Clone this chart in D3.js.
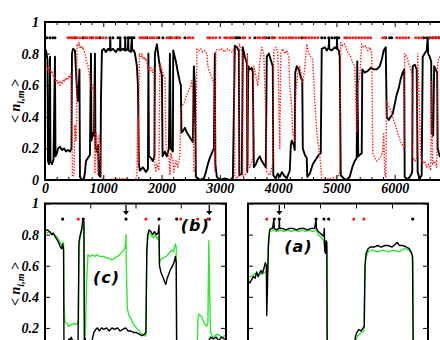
<!DOCTYPE html>
<html>
<head>
<meta charset="utf-8">
<script src="https://cdn.jsdelivr.net/npm/d3@7"></script>
<style>
    html, body { margin: 0; padding: 0; background: #fff; }
    svg { display: block; }
</style>
</head>
<body>
<div id="chart"></div>
<script>
// ---- top panel: trajectory over MC steps ----
var topBlack = [[0,0.83],[17,0.82],[34,0.78],[43,0.76],[51,0.12],[69,0.10],[86,0.78],[94,0.12],[120,0.10],[146,0.13],[171,0.78],[180,0.15],[206,0.17],[223,0.20],[257,0.21],[291,0.19],[326,0.20],[360,0.18],[394,0.19],[429,0.18],[454,0.20],[463,0.80],[480,0.83],[514,0.82],[531,0.70],[549,0.56],[566,0.50],[583,0.62],[591,0.70],[600,0.02],[634,0.00],[669,0.01],[686,0.05],[703,0.12],[737,0.14],[771,0.16],[789,0.80],[797,0.25],[823,0.30],[840,0.28],[857,0.80],[866,0.20],[891,0.18],[908,0.22],[926,0.03],[951,0.02],[960,0.50],[977,0.82],[1011,0.83],[1046,0.81],[1080,0.83],[1114,0.82],[1120,0.90],[1125,0.82],[1166,0.83],[1217,0.81],[1251,0.83],[1286,0.82],[1291,0.90],[1296,0.82],[1337,0.83],[1371,0.82],[1377,0.90],[1382,0.82],[1423,0.83],[1428,0.90],[1433,0.82],[1474,0.81],[1491,0.90],[1496,0.82],[1526,0.82],[1543,0.80],[1560,0.76],[1577,0.72],[1594,0.60],[1611,0.10],[1628,0.06],[1680,0.08],[1731,0.05],[1766,0.07],[1774,0.80],[1783,0.15],[1817,0.14],[1851,0.12],[1877,0.15],[1886,0.80],[1920,0.86],[1954,0.76],[1971,0.72],[2006,0.66],[2017,0.15],[2057,0.18],[2091,0.15],[2126,0.20],[2143,0.80],[2160,0.20],[2194,0.18],[2200,0.82],[2246,0.75],[2280,0.68],[2314,0.62],[2331,0.60],[2340,0.30],[2366,0.31],[2400,0.33],[2434,0.30],[2469,0.28],[2503,0.26],[2537,0.24],[2554,0.72],[2571,0.60],[2589,0.02],[2657,0.00],[2726,0.01],[2760,0.05],[2794,0.10],[2828,0.14],[2863,0.17],[2897,0.20],[2914,0.80],[2923,0.10],[2948,0.02],[3000,0.00],[3085,0.01],[3171,0.00],[3223,0.01],[3257,0.85],[3291,0.84],[3325,0.82],[3334,0.03],[3377,0.04],[3394,0.84],[3428,0.78],[3463,0.74],[3471,0.05],[3488,0.72],[3514,0.70],[3548,0.71],[3565,0.68],[3583,0.08],[3617,0.10],[3651,0.13],[3685,0.15],[3720,0.12],[3754,0.10],[3788,0.08],[3805,0.78],[3840,0.80],[3874,0.76],[3908,0.72],[3917,0.03],[3960,0.01],[3994,0.04],[4028,0.02],[4063,0.05],[4097,0.03],[4148,0.01],[4200,0.06],[4217,0.22],[4234,0.25],[4268,0.22],[4285,0.19],[4294,0.68],[4320,0.72],[4354,0.70],[4388,0.65],[4414,0.63],[4423,0.20],[4440,0.18],[4457,0.16],[4491,0.14],[4500,0.02],[4543,0.04],[4594,0.10],[4645,0.13],[4697,0.16],[4731,0.17],[4748,0.83],[4800,0.84],[4834,0.82],[4868,0.84],[4874,0.90],[4878,0.83],[4920,0.82],[4971,0.84],[5005,0.83],[5010,0.90],[5015,0.83],[5040,0.82],[5057,0.78],[5074,0.03],[5125,0.01],[5177,0.00],[5228,0.02],[5280,0.09],[5314,0.12],[5348,0.14],[5357,0.75],[5374,0.15],[5400,0.16],[5434,0.17],[5443,0.70],[5485,0.68],[5537,0.69],[5588,0.71],[5640,0.70],[5691,0.70],[5743,0.72],[5777,0.76],[5811,0.82],[5846,0.84],[5863,0.40],[5897,0.38],[5931,0.40],[5966,0.42],[6000,0.48],[6034,0.54],[6068,0.58],[6103,0.64],[6137,0.68],[6163,0.70],[6171,0.02],[6223,0.00],[6274,0.03],[6300,0.05],[6308,0.72],[6343,0.73],[6377,0.70],[6394,0.05],[6428,0.01],[6463,0.03],[6480,0.78],[6514,0.80],[6548,0.82],[6566,0.90],[6574,0.80],[6600,0.78],[6626,0.75],[6634,0.30],[6660,0.28],[6677,0.72],[6703,0.70],[6728,0.68],[6737,0.20],[6771,0.15],[6806,0.14]];

var topRed = [[0,0.72],[17,0.74],[34,0.71],[51,0.69],[69,0.72],[86,0.70],[103,0.68],[120,0.69],[137,0.66],[154,0.67],[171,0.64],[189,0.62],[206,0.63],[223,0.61],[240,0.62],[257,0.60],[274,0.62],[291,0.61],[309,0.63],[326,0.62],[343,0.64],[360,0.63],[377,0.65],[394,0.64],[411,0.66],[429,0.65],[446,0.67],[463,0.30],[471,0.02],[497,0.03],[514,0.35],[531,0.25],[540,0.30],[549,0.86],[566,0.85],[583,0.87],[600,0.84],[617,0.85],[634,0.83],[651,0.84],[669,0.82],[686,0.80],[703,0.77],[720,0.74],[737,0.72],[754,0.68],[771,0.64],[789,0.60],[806,0.57],[823,0.60],[840,0.56],[857,0.04],[874,0.30],[891,0.26],[908,0.03],[926,0.28],[943,0.24],[968,0.02],[1029,0.00],[1286,0.01],[1543,0.00],[1577,0.02],[1594,0.40],[1603,0.10],[1620,0.80],[1646,0.78],[1663,0.80],[1680,0.77],[1697,0.78],[1714,0.76],[1731,0.77],[1748,0.74],[1766,0.70],[1783,0.72],[1800,0.69],[1817,0.71],[1834,0.70],[1851,0.68],[1868,0.70],[1886,0.08],[1903,0.05],[1920,0.10],[1954,0.06],[1971,0.74],[1988,0.72],[2006,0.70],[2023,0.68],[2040,0.66],[2057,0.65],[2074,0.25],[2091,0.20],[2109,0.18],[2126,0.15],[2143,0.03],[2160,0.17],[2177,0.14],[2194,0.13],[2211,0.05],[2246,0.12],[2280,0.08],[2314,0.15],[2331,0.45],[2366,0.48],[2400,0.50],[2434,0.54],[2469,0.57],[2503,0.60],[2520,0.63],[2537,0.55],[2554,0.05],[2589,0.10],[2606,0.83],[2640,0.82],[2674,0.83],[2708,0.81],[2743,0.82],[2777,0.80],[2794,0.72],[2828,0.68],[2863,0.65],[2897,0.61],[2914,0.05],[2931,0.82],[2966,0.83],[3000,0.82],[3034,0.83],[3068,0.81],[3103,0.82],[3137,0.83],[3171,0.82],[3206,0.81],[3240,0.83],[3257,0.02],[3291,0.01],[3325,0.03],[3334,0.86],[3360,0.84],[3386,0.80],[3394,0.02],[3428,0.03],[3463,0.05],[3471,0.80],[3488,0.10],[3514,0.08],[3548,0.12],[3565,0.15],[3583,0.72],[3617,0.66],[3651,0.60],[3685,0.75],[3720,0.84],[3754,0.80],[3788,0.40],[3805,0.05],[3857,0.03],[3908,0.10],[3925,0.82],[3960,0.84],[3994,0.81],[4028,0.20],[4046,0.80],[4080,0.83],[4114,0.80],[4148,0.82],[4183,0.78],[4200,0.59],[4234,0.45],[4251,0.30],[4285,0.25],[4303,0.55],[4337,0.68],[4371,0.72],[4406,0.65],[4423,0.62],[4457,0.70],[4491,0.86],[4526,0.80],[4560,0.78],[4594,0.76],[4628,0.50],[4663,0.30],[4697,0.20],[4731,0.10],[4748,0.00],[4886,0.01],[5023,0.02],[5057,0.05],[5074,0.87],[5108,0.85],[5143,0.86],[5177,0.82],[5211,0.80],[5245,0.78],[5280,0.74],[5314,0.72],[5348,0.30],[5366,0.60],[5400,0.65],[5434,0.86],[5468,0.84],[5503,0.85],[5537,0.82],[5571,0.84],[5606,0.80],[5623,0.17],[5657,0.14],[5691,0.12],[5726,0.13],[5760,0.15],[5794,0.18],[5811,0.30],[5828,0.04],[5846,0.02],[5863,0.50],[5897,0.47],[5931,0.44],[5966,0.40],[6000,0.36],[6034,0.32],[6068,0.28],[6103,0.24],[6137,0.22],[6163,0.20],[6171,0.80],[6206,0.78],[6240,0.74],[6274,0.70],[6300,0.66],[6308,0.15],[6343,0.12],[6377,0.14],[6394,0.80],[6428,0.40],[6446,0.15],[6480,0.10],[6514,0.12],[6548,0.08],[6583,0.10],[6617,0.06],[6634,0.62],[6651,0.10],[6686,0.12],[6720,0.08],[6737,0.75],[6771,0.78],[6806,0.80]];

var topBlackMarks = [34,86,137,171,514,651,806,943,1114,1166,1251,1286,1371,1423,1457,1491,1526,1748,1954,2023,2143,2263,2400,3274,3308,3343,3600,3788,3840,3908,4406,4748,4800,4868,4920,4971,5005,5040,5846,5914,5948,6497,6548,6600,6651,6703,6754];
var topRedMarks = [394,429,463,497,549,600,686,720,771,823,874,908,994,1046,1628,1663,1697,1731,1800,1834,1868,1920,2091,2126,2177,2228,2280,2314,2451,2486,2537,2794,2828,2880,2931,3000,3085,3120,3171,3206,3240,3394,3428,3514,3651,3685,3737,3771,3891,3943,4028,4080,4131,4183,4217,4251,4303,4354,4440,4474,4526,4577,4628,4680,5143,5177,5228,5280,5331,5383,5434,5485,5537,5588,5794,5828,6034,6086,6137,6188,6240,6360,6411,6463,6617,6668,6720,6771];

var topXTicks = [0,1000,2000,3000,4000,5000,6000,7000];
var topXLabels = [0,1000,2000,3000,4000,5000,6000];
var yTicks = [0,0.2,0.4,0.6,0.8,1];
var topYLabels = [0,0.2,0.4,0.6,0.8,1];
var bottomYLabels = [0.2,0.4,0.6,0.8,1];

// ---- bottom left panel (c)/(b) ----
var leftGreen = [[0,0.82],[5,0.81],[10,0.82],[15,0.80],[20,0.80],[25,0.79],[30,0.77],[35,0.74],[38,0.73],[41,0.75],[42,0.35],[44,0.24],[48,0.23],[52,0.21],[56,0.22],[60,0.22],[64,0.23],[68,0.22],[72,0.23],[74,0.25],[75,0.70],[77,0.78],[80,0.81],[83,0.85],[85,0.88],[86,0.85],[87,0.30],[89,0.10],[92,0.50],[95,0.67],[100,0.66],[105,0.67],[110,0.66],[115,0.67],[120,0.66],[125,0.66],[130,0.66],[135,0.65],[140,0.65],[145,0.64],[150,0.64],[155,0.65],[160,0.66],[165,0.67],[170,0.69],[174,0.70],[177,0.72],[179,0.80],[180,0.55],[182,0.32],[186,0.28],[190,0.26],[196,0.22],[202,0.20],[208,0.18],[214,0.16],[220,0.15],[223,0.15],[225,0.68],[228,0.80],[232,0.81],[236,0.79],[240,0.78],[244,0.80],[248,0.77],[251,0.79],[253,0.62],[256,0.64],[262,0.65],[268,0.66],[274,0.68],[280,0.70],[284,0.69],[288,0.74],[290,0.72],[291,0.03],[320,0.00],[336,0.05],[338,0.26],[340,0.29],[346,0.27],[352,0.23],[357,0.21],[360,0.23],[362,0.76],[364,0.40],[366,0.17],[370,0.14],[376,0.15],[382,0.16],[390,0.14],[398,0.15]];
var leftBlack = [[0,0.83],[5,0.83],[10,0.82],[15,0.80],[18,0.81],[22,0.79],[26,0.77],[30,0.75],[34,0.72],[37,0.71],[39,0.74],[41,0.70],[42,0.05],[46,0.02],[50,0.10],[53,0.13],[56,0.12],[58,0.14],[62,0.11],[66,0.12],[70,0.08],[73,0.10],[75,0.75],[78,0.80],[80,0.82],[82,0.86],[84,0.90],[86,0.88],[87,0.05],[89,0.13],[91,0.08],[95,0.03],[100,0.05],[104,0.12],[108,0.17],[112,0.19],[116,0.20],[120,0.18],[125,0.20],[130,0.19],[136,0.20],[142,0.18],[148,0.20],[154,0.19],[160,0.20],[166,0.18],[172,0.19],[178,0.20],[184,0.18],[190,0.18],[196,0.17],[202,0.17],[208,0.16],[214,0.15],[220,0.16],[223,0.17],[225,0.70],[227,0.80],[230,0.83],[234,0.82],[238,0.80],[242,0.82],[246,0.80],[250,0.81],[252,0.86],[253,0.60],[256,0.56],[260,0.53],[264,0.50],[267,0.48],[270,0.52],[274,0.55],[278,0.58],[282,0.60],[286,0.63],[288,0.66],[290,0.62],[291,0.02],[330,0.00],[355,0.03],[362,0.12],[366,0.14],[372,0.13],[378,0.14],[384,0.12],[390,0.14],[396,0.13],[400,0.13]];
var leftBlackMarks = [39,84.6,179,252,291,363];
var leftRedMarks = [73.6,223,300,337.5,359.6];
var leftArrows = [179,363];
var leftXTicks = [100,200,300];

// ---- bottom right panel (a) ----
var rightGreen = [[0,0.53],[10,0.53],[20,0.55],[30,0.54],[40,0.55],[48,0.56],[51,0.55],[53,0.50],[56,0.72],[60,0.82],[70,0.83],[80,0.82],[90,0.83],[100,0.82],[110,0.83],[120,0.82],[130,0.83],[140,0.82],[150,0.83],[160,0.82],[170,0.83],[180,0.82],[190,0.83],[195,0.80],[200,0.79],[205,0.78],[210,0.76],[213,0.72],[216,0.70],[219,0.72],[220,0.02],[297,0.00],[299,0.12],[305,0.15],[315,0.17],[322,0.18],[324,0.50],[327,0.65],[334,0.69],[345,0.70],[360,0.69],[375,0.70],[390,0.69],[405,0.70],[420,0.69],[435,0.71],[445,0.70],[455,0.69],[458,0.62],[459,0.02],[500,0.00]];
var rightBlack = [[0,0.50],[5,0.49],[10,0.51],[15,0.53],[20,0.52],[24,0.56],[28,0.53],[32,0.55],[36,0.57],[40,0.55],[44,0.58],[48,0.62],[51,0.60],[52,0.28],[54,0.45],[57,0.75],[60,0.83],[64,0.84],[68,0.84],[72,0.90],[73,0.84],[80,0.83],[86,0.84],[87,0.90],[88,0.84],[95,0.84],[105,0.83],[115,0.84],[125,0.84],[135,0.83],[145,0.84],[155,0.84],[165,0.83],[175,0.84],[185,0.84],[189,0.90],[190,0.84],[195,0.82],[200,0.81],[205,0.80],[210,0.79],[212,0.84],[213,0.70],[215,0.68],[217,0.76],[219,0.75],[220,0.02],[260,0.00],[296,0.00],[298,0.14],[302,0.17],[308,0.19],[314,0.18],[320,0.20],[323,0.21],[325,0.60],[328,0.68],[334,0.71],[340,0.72],[350,0.72],[360,0.73],[370,0.72],[380,0.73],[390,0.73],[400,0.72],[410,0.74],[415,0.75],[420,0.73],[430,0.73],[440,0.72],[448,0.71],[454,0.68],[457,0.66],[459,0.02],[500,0.00]];
var rightBlackMarks = [73,87,189,211,224,457.5];
var rightRedMarks = [52,294,322];
var rightArrows = [87];
var rightXTicks = [100,200,300,400];

var markLevel = 0.9;

var serif = '"Liberation Serif", "DejaVu Serif", serif';
var sans = '"DejaVu Sans", sans-serif';

var svg = d3.select("#chart").append("svg")
    .attr("width", 440)
    .attr("height", 340);

var defs = svg.append("defs");

/**
 * style the tick labels the way the original plot has them
 */
var styleAxis = function(g){
    g.select(".domain").remove();
    g.selectAll("line").attr("stroke", "#000").attr("stroke-width", 1);
    g.selectAll("text")
        .attr("fill", "#000")
        .style("font-family", serif)
        .style("font-weight", "bold")
        .style("font-style", "italic")
        .style("font-size", "14px");
};

/**
 * label formatter that only writes the listed values
 */
var labelsFor = function(list, fmt){
    return function(d){
        return list.indexOf(d) >= 0 ? fmt(d) : "";
    };
};

var yFormat = function(d){
    return (d === 0 || d === 1) ? String(d) : d3.format(".1f")(d);
};

/**
 * draw one framed panel with its lines and markers
 */
var drawPanel = function(opt){
    var x = opt.x, y = opt.y;
    var x0 = x.range()[0], x1 = x.range()[1];
    var yTop = y(1), yBottom = y(0);

    defs.append("clipPath").attr("id", opt.id)
        .append("rect")
        .attr("x", x0).attr("y", yTop)
        .attr("width", x1 - x0).attr("height", yBottom - yTop);

    var plot = svg.append("g").attr("clip-path", "url(#" + opt.id + ")");
    var line = d3.line()
        .x(function(d){ return x(d[0]); })
        .y(function(d){ return y(d[1]); });

    opt.series.forEach(function(s){
        plot.append("path")
            .datum(s.data)
            .attr("fill", "none")
            .attr("stroke", s.color)
            .attr("stroke-width", s.width)
            .attr("stroke-dasharray", s.dash || null)
            .attr("stroke-linejoin", "round")
            .attr("d", line);
    });

    plot.selectAll("circle.bm").data(opt.blackMarks).enter().append("circle")
        .attr("cx", function(d){ return x(d); })
        .attr("cy", y(markLevel))
        .attr("r", opt.markR)
        .attr("fill", "#000");
    plot.selectAll("circle.rm").data(opt.redMarks).enter().append("circle")
        .attr("cx", function(d){ return x(d); })
        .attr("cy", y(markLevel))
        .attr("r", opt.markR)
        .attr("fill", "#ff1a1a");

    // arrows pointing at selected events
    (opt.arrows || []).forEach(function(a){
        var ax = x(a), tip = y(markLevel) - 4;
        svg.append("line")
            .attr("x1", ax).attr("x2", ax)
            .attr("y1", tip - 10).attr("y2", tip - 3)
            .attr("stroke", "#000").attr("stroke-width", 1.3);
        svg.append("path")
            .attr("d", "M" + (ax - 3) + "," + (tip - 4) + "L" + (ax + 3) + "," + (tip - 4) + "L" + ax + "," + tip + "Z")
            .attr("fill", "#000");
    });

    // ticks, inward on all sides
    svg.append("g").attr("transform", "translate(0," + yBottom + ")")
        .call(d3.axisBottom(x).tickValues(opt.xTicks).tickSize(-5).tickPadding(3.5)
            .tickFormat(opt.xLabels ? labelsFor(opt.xLabels, d3.format("d")) : ""))
        .call(styleAxis);
    svg.append("g").attr("transform", "translate(0," + yTop + ")")
        .call(d3.axisTop(x).tickValues(opt.xTicks).tickSize(-5).tickFormat(""))
        .call(styleAxis);
    if (opt.xMinor) {
        svg.append("g").attr("transform", "translate(0," + yBottom + ")")
            .call(d3.axisBottom(x).tickValues(opt.xMinor).tickSize(-3).tickFormat(""))
            .call(styleAxis);
        svg.append("g").attr("transform", "translate(0," + yTop + ")")
            .call(d3.axisTop(x).tickValues(opt.xMinor).tickSize(-3).tickFormat(""))
            .call(styleAxis);
    }
    svg.append("g").attr("transform", "translate(" + x0 + ",0)")
        .call(d3.axisLeft(y).tickValues(yTicks).tickSize(-5).tickPadding(6)
            .tickFormat(opt.yLabels ? labelsFor(opt.yLabels, yFormat) : ""))
        .call(styleAxis);
    svg.append("g").attr("transform", "translate(" + x1 + ",0)")
        .call(d3.axisRight(y).tickValues(yTicks).tickSize(-5).tickFormat(""))
        .call(styleAxis);

    svg.append("rect")
        .attr("x", x0).attr("y", yTop)
        .attr("width", x1 - x0).attr("height", yBottom - yTop)
        .attr("fill", "none").attr("stroke", "#000").attr("stroke-width", 2);
};

/**
 * y axis title  < n_{i,m} >
 */
var drawYTitle = function(cx, cy){
    var t = svg.append("text")
        .attr("transform", "translate(" + cx + "," + cy + ") rotate(-90)")
        .attr("text-anchor", "middle")
        .style("font-family", serif)
        .style("font-weight", "bold")
        .style("font-style", "italic")
        .style("font-size", "14px");
    t.append("tspan").text("< n");
    t.append("tspan").attr("dy", 4).style("font-size", "10px").text("i,m");
    t.append("tspan").attr("dy", -4).text(" >");
};

var xTop = d3.scaleLinear().domain([0, 7000]).range([45, 453]);
var yTopScale = d3.scaleLinear().domain([0, 1]).range([180, 22]);

drawPanel({
    id: "clipTop", x: xTop, y: yTopScale,
    series: [
        {data: topBlack, color: "#000", width: 1.9},
        {data: topRed, color: "#ff1a1a", width: 1.4, dash: "1.4,1.5"}
    ],
    blackMarks: topBlackMarks, redMarks: topRedMarks, markR: 1.5,
    xTicks: topXTicks, xMinor: d3.range(200, 7000, 200).filter(function(d){ return d % 1000 !== 0; }),
    xLabels: topXLabels, yLabels: topYLabels
});

var yBot = d3.scaleLinear().domain([0, 1]).range([359, 203.5]);
var xLeft = d3.scaleLinear().domain([0, 400]).range([45, 226]);
var xRight = d3.scaleLinear().domain([0, 500]).range([248, 428]);

drawPanel({
    id: "clipLeft", x: xLeft, y: yBot,
    series: [
        {data: leftGreen, color: "#33e633", width: 1.4},
        {data: leftBlack, color: "#000", width: 1.4}
    ],
    blackMarks: leftBlackMarks, redMarks: leftRedMarks, markR: 1.6, arrows: leftArrows,
    xTicks: leftXTicks, xLabels: null, yLabels: bottomYLabels
});

drawPanel({
    id: "clipRight", x: xRight, y: yBot,
    series: [
        {data: rightGreen, color: "#33e633", width: 1.4},
        {data: rightBlack, color: "#000", width: 1.4}
    ],
    blackMarks: rightBlackMarks, redMarks: rightRedMarks, markR: 1.6, arrows: rightArrows,
    xTicks: rightXTicks, xLabels: null, yLabels: null
});

drawYTitle(20, 101);
drawYTitle(20, 284);

// panel letters
[["(c)", xLeft(136), yBot(0.49)], ["(b)", xLeft(332), yBot(0.82)], ["(a)", xRight(140), yBot(0.69)]].forEach(function(p){
    svg.append("text")
        .attr("x", p[1]).attr("y", p[2])
        .attr("text-anchor", "middle")
        .style("font-family", sans)
        .style("font-weight", "bold")
        .style("font-style", "italic")
        .style("font-size", "16px")
        .style("letter-spacing", "1px")
        .text(p[0]);
});
</script>
</body>
</html>
